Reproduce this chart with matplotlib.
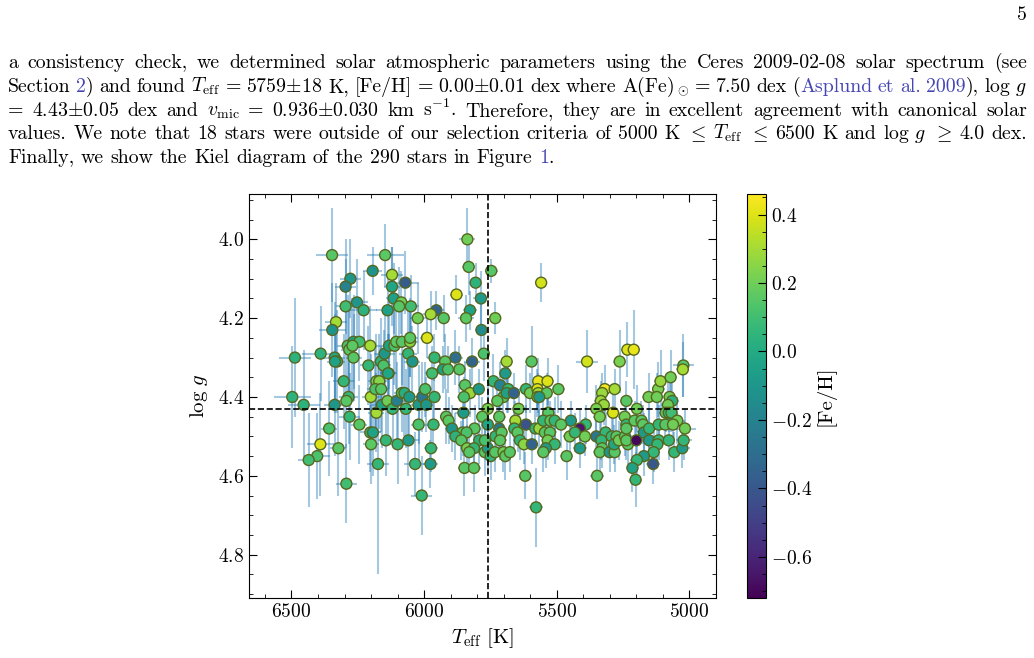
import numpy as np
import matplotlib
matplotlib.use("Agg")
import matplotlib.pyplot as plt
from matplotlib.ticker import MultipleLocator

# ---------------- data ----------------
# (Teff [K], log g, [Fe/H], err Teff, err log g)
hot_stars = [
    (6347, 4.04, 0.15, 60, 0.12), (6147, 4.04, 0.16, 70, 0.08), (6194, 4.08, -0.12, 35, 0.06),
    (6121, 4.09, 0.30, 40, 0.07), (6071, 4.11, -0.38, 50, 0.08), (6278, 4.10, -0.10, 40, 0.10),
    (6296, 4.12, -0.20, 40, 0.12), (6121, 4.12, -0.02, 30, 0.10), (6115, 4.15, -0.05, 30, 0.09),
    (6086, 4.16, 0.20, 40, 0.08), (6253, 4.16, -0.10, 40, 0.11), (6296, 4.17, 0.10, 35, 0.12),
    (6228, 4.18, 0.04, 50, 0.10), (6138, 4.18, -0.05, 45, 0.09), (6094, 4.17, 0.15, 30, 0.10),
    (6332, 4.21, 0.30, 40, 0.10), (6346, 4.23, -0.12, 50, 0.12), (6487, 4.30, 0.04, 60, 0.15),
    (6390, 4.29, 0.04, 70, 0.12), (6337, 4.30, -0.02, 40, 0.14), (6328, 4.31, 0.06, 30, 0.13),
    (6336, 4.31, -0.05, 30, 0.12), (6288, 4.27, 0.12, 40, 0.13), (6266, 4.26, -0.04, 35, 0.12),
    (6244, 4.26, 0.10, 35, 0.10), (6282, 4.28, 0.15, 30, 0.11), (6270, 4.27, 0.16, 30, 0.12),
    (6266, 4.30, 0.15, 30, 0.11), (6203, 4.27, 0.30, 40, 0.10), (6210, 4.32, 0.06, 30, 0.10),
    (6163, 4.31, 0.04, 35, 0.11), (6153, 4.32, 0.12, 30, 0.09), (6149, 4.29, -0.10, 40, 0.10),
    (6132, 4.27, -0.05, 30, 0.11), (6112, 4.27, 0.12, 30, 0.10), (6105, 4.26, 0.16, 30, 0.12),
    (6084, 4.26, 0.15, 30, 0.11), (6134, 4.34, 0.04, 30, 0.10), (6497, 4.40, 0.04, 70, 0.13),
    (6454, 4.42, 0.04, 60, 0.14), (6303, 4.36, 0.06, 40, 0.12), (6337, 4.42, -0.10, 40, 0.13),
    (6285, 4.40, 0.06, 35, 0.12), (6293, 4.41, 0.15, 30, 0.12), (6281, 4.45, 0.06, 40, 0.11),
    (6244, 4.47, 0.15, 30, 0.10), (6358, 4.48, 0.12, 30, 0.12), (6391, 4.52, 0.40, 50, 0.13),
    (6323, 4.53, 0.15, 30, 0.12), (6403, 4.55, 0.12, 50, 0.11), (6435, 4.56, 0.10, 40, 0.12),
    (6293, 4.62, 0.10, 40, 0.10), (6201, 4.40, 0.30, 35, 0.11), (6180, 4.44, 0.30, 30, 0.10),
    (6180, 4.36, 0.20, 30, 0.12), (6169, 4.36, 0.25, 30, 0.12), (6184, 4.38, 0.12, 30, 0.10),
    (6162, 4.38, 0.15, 30, 0.11), (6136, 4.34, -0.02, 30, 0.10), (6159, 4.42, -0.05, 40, 0.11),
    (6138, 4.41, 0.20, 30, 0.10), (6119, 4.43, 0.06, 30, 0.09), (6103, 4.41, -0.22, 40, 0.10),
    (6084, 4.39, 0.12, 30, 0.10), (6074, 4.39, 0.02, 30, 0.11), (6069, 4.43, 0.06, 30, 0.10),
    (6203, 4.49, 0.06, 40, 0.10), (6193, 4.49, -0.05, 30, 0.11), (6200, 4.52, 0.16, 30, 0.10),
    (6144, 4.51, 0.06, 30, 0.09), (6100, 4.52, 0.06, 35, 0.10), (6174, 4.57, 0.06, 40, 0.28),
]

mid_stars = [
    (6050, 4.17, 0.10, 30, 0.08), (6024, 4.20, 0.20, 30, 0.09), (6053, 4.26, 0.25, 30, 0.09),
    (6053, 4.25, 0.16, 30, 0.10), (6060, 4.29, 0.06, 35, 0.11), (6044, 4.31, -0.10, 30, 0.09),
    (6056, 4.40, -0.08, 30, 0.11), (6021, 4.42, -0.08, 30, 0.10), (6007, 4.40, -0.25, 30, 0.09),
    (6021, 4.47, 0.12, 30, 0.09), (6059, 4.51, -0.08, 40, 0.09), (6034, 4.57, 0.06, 40, 0.08),
    (6009, 4.65, 0.06, 40, 0.10), (5996, 4.38, 0.12, 25, 0.07), (5837, 4.00, 0.20, 30, 0.08),
    (5832, 4.07, 0.15, 25, 0.07), (5747, 4.08, 0.15, 25, 0.03), (5806, 4.11, 0.04, 25, 0.05),
    (5878, 4.14, 0.40, 25, 0.05), (5786, 4.15, -0.08, 30, 0.07), (5827, 4.18, -0.05, 25, 0.05),
    (5954, 4.18, -0.35, 30, 0.05), (5975, 4.19, 0.30, 30, 0.06), (5926, 4.20, 0.15, 25, 0.06),
    (5842, 4.20, 0.16, 30, 0.06), (5732, 4.20, 0.20, 20, 0.04), (5784, 4.23, -0.15, 25, 0.07),
    (5989, 4.25, 0.40, 25, 0.05), (5775, 4.29, 0.12, 20, 0.07), (5961, 4.30, 0.06, 30, 0.06),
    (5882, 4.30, -0.30, 30, 0.07), (5819, 4.31, -0.35, 30, 0.06), (5921, 4.31, 0.15, 25, 0.07),
    (5929, 4.33, -0.05, 25, 0.06), (5910, 4.33, 0.12, 25, 0.06), (5867, 4.33, 0.15, 25, 0.06),
    (5970, 4.34, 0.10, 25, 0.07), (5961, 4.40, 0.06, 25, 0.06), (5992, 4.42, -0.10, 25, 0.07),
    (5846, 4.37, 0.15, 25, 0.06), (5827, 4.39, 0.28, 25, 0.06), (5794, 4.38, -0.08, 25, 0.05),
    (5850, 4.40, 0.12, 25, 0.05), (5852, 4.44, -0.08, 30, 0.06), (5760, 4.43, 0.22, 25, 0.06),
    (5739, 4.36, 0.06, 25, 0.07), (5714, 4.37, -0.20, 25, 0.06), (5701, 4.40, 0.16, 25, 0.06),
    (5724, 4.41, 0.16, 25, 0.06), (5917, 4.45, 0.15, 25, 0.07), (5908, 4.46, 0.16, 25, 0.06),
    (5895, 4.48, -0.10, 25, 0.06), (5965, 4.47, 0.06, 25, 0.06), (5781, 4.45, 0.16, 25, 0.05),
    (5760, 4.47, -0.02, 25, 0.05), (5717, 4.45, 0.16, 25, 0.06), (5717, 4.48, -0.25, 25, 0.06),
    (5810, 4.48, 0.15, 25, 0.06), (5855, 4.49, 0.15, 25, 0.06), (5840, 4.49, 0.12, 25, 0.06),
    (5882, 4.50, 0.04, 25, 0.06), (5860, 4.51, 0.15, 25, 0.05), (5792, 4.51, 0.04, 25, 0.06),
    (5838, 4.53, 0.22, 25, 0.06), (5812, 4.53, 0.06, 25, 0.05), (5830, 4.54, 0.15, 25, 0.05),
    (5771, 4.54, 0.15, 25, 0.06), (5760, 4.53, -0.08, 25, 0.05), (5749, 4.55, 0.06, 25, 0.06),
    (5733, 4.54, 0.15, 25, 0.05), (5701, 4.54, 0.20, 25, 0.05), (5731, 4.50, 0.06, 25, 0.05),
    (5708, 4.49, 0.15, 25, 0.05), (5714, 4.51, 0.16, 25, 0.05), (5974, 4.53, 0.06, 25, 0.06),
    (5976, 4.57, -0.08, 30, 0.06), (5848, 4.58, 0.15, 25, 0.07), (5812, 4.58, 0.15, 25, 0.06),
    (5771, 4.51, 0.12, 25, 0.05),
]

cool_stars = [
    (5559, 4.11, 0.38, 20, 0.05), (5689, 4.31, 0.30, 25, 0.06), (5694, 4.34, -0.08, 25, 0.06),
    (5595, 4.31, 0.15, 25, 0.09), (5683, 4.38, 0.06, 25, 0.06), (5689, 4.39, -0.05, 25, 0.05),
    (5662, 4.39, -0.35, 25, 0.05), (5694, 4.55, 0.16, 25, 0.06), (5677, 4.54, 0.15, 25, 0.05),
    (5386, 4.31, 0.38, 40, 0.08), (5263, 4.31, 0.22, 25, 0.08), (5234, 4.28, 0.40, 25, 0.07),
    (5210, 4.28, 0.42, 25, 0.10), (5023, 4.32, 0.15, 40, 0.08), (5656, 4.46, 0.30, 25, 0.05),
    (5660, 4.48, 0.06, 25, 0.05), (5648, 4.49, 0.15, 25, 0.05), (5639, 4.51, 0.06, 25, 0.05),
    (5644, 4.43, 0.20, 25, 0.05), (5616, 4.38, 0.06, 25, 0.06), (5601, 4.39, 0.20, 25, 0.05),
    (5570, 4.36, 0.42, 25, 0.06), (5535, 4.36, 0.40, 25, 0.06), (5573, 4.38, 0.40, 25, 0.05),
    (5570, 4.39, 0.30, 25, 0.05), (5573, 4.40, 0.28, 25, 0.05), (5538, 4.39, 0.16, 25, 0.05),
    (5566, 4.40, -0.08, 25, 0.05), (5494, 4.38, 0.16, 25, 0.06), (5532, 4.44, 0.15, 25, 0.05),
    (5616, 4.47, -0.42, 25, 0.05), (5624, 4.52, 0.25, 25, 0.05), (5594, 4.52, -0.35, 25, 0.05),
    (5581, 4.48, 0.06, 25, 0.05), (5566, 4.48, 0.28, 25, 0.05), (5551, 4.46, 0.06, 25, 0.05),
    (5524, 4.46, 0.15, 25, 0.05), (5508, 4.46, 0.06, 25, 0.06), (5545, 4.49, 0.16, 25, 0.05),
    (5526, 4.49, 0.15, 25, 0.05), (5534, 4.51, 0.20, 25, 0.05), (5508, 4.52, 0.06, 25, 0.05),
    (5541, 4.53, -0.08, 25, 0.05), (5551, 4.54, 0.15, 25, 0.05), (5619, 4.60, 0.15, 25, 0.06),
    (5578, 4.68, 0.06, 25, 0.10), (5319, 4.38, 0.45, 25, 0.06), (5282, 4.38, 0.30, 25, 0.05),
    (5329, 4.39, 0.28, 25, 0.05), (5334, 4.41, 0.28, 25, 0.05), (5323, 4.42, 0.28, 25, 0.05),
    (5288, 4.44, 0.40, 25, 0.05), (5351, 4.43, 0.22, 25, 0.06), (5338, 4.45, 0.20, 25, 0.05),
    (5238, 4.41, 0.15, 25, 0.05), (5198, 4.43, 0.20, 25, 0.06), (5244, 4.45, 0.20, 25, 0.05),
    (5154, 4.40, 0.20, 25, 0.06), (5118, 4.38, 0.22, 25, 0.07), (5123, 4.40, 0.20, 25, 0.06),
    (5109, 4.36, 0.28, 25, 0.08), (5071, 4.35, 0.20, 25, 0.07), (5025, 4.33, 0.30, 25, 0.07),
    (5075, 4.40, 0.20, 25, 0.06), (5065, 4.41, 0.04, 25, 0.06), (5081, 4.42, 0.20, 25, 0.06),
    (5090, 4.44, 0.15, 25, 0.05), (5078, 4.44, 0.06, 25, 0.05), (5068, 4.44, 0.10, 25, 0.05),
    (5046, 4.46, 0.20, 30, 0.06), (5017, 4.48, 0.20, 40, 0.05), (5447, 4.46, -0.08, 25, 0.05),
    (5484, 4.47, 0.16, 25, 0.06), (5391, 4.47, 0.06, 25, 0.05), (5413, 4.48, -0.65, 25, 0.05),
    (5451, 4.50, 0.20, 25, 0.05), (5394, 4.50, 0.20, 25, 0.05), (5432, 4.49, 0.06, 25, 0.05),
    (5413, 4.53, -0.08, 25, 0.05), (5463, 4.55, 0.15, 25, 0.06), (5351, 4.50, -0.25, 25, 0.05),
    (5316, 4.49, 0.06, 25, 0.05), (5332, 4.51, 0.06, 25, 0.05), (5329, 4.53, 0.15, 25, 0.05),
    (5338, 4.54, 0.16, 25, 0.05), (5301, 4.54, -0.10, 25, 0.05), (5282, 4.54, 0.15, 25, 0.05),
    (5293, 4.50, 0.06, 25, 0.05), (5275, 4.50, 0.15, 25, 0.05), (5284, 4.52, -0.02, 25, 0.05),
    (5266, 4.51, 0.20, 25, 0.05), (5243, 4.50, 0.15, 25, 0.05), (5232, 4.52, 0.15, 25, 0.05),
    (5238, 4.51, 0.16, 25, 0.05), (5200, 4.51, -0.70, 25, 0.05), (5238, 4.47, 0.06, 25, 0.05),
    (5238, 4.48, 0.15, 25, 0.05), (5207, 4.46, 0.16, 25, 0.05), (5181, 4.46, 0.15, 25, 0.05),
    (5175, 4.47, 0.16, 25, 0.05), (5172, 4.49, -0.08, 25, 0.05), (5152, 4.48, 0.06, 25, 0.05),
    (5152, 4.51, -0.08, 25, 0.05), (5116, 4.47, 0.06, 25, 0.05), (5091, 4.47, 0.15, 25, 0.05),
    (5062, 4.47, 0.20, 25, 0.05), (5116, 4.51, 0.06, 25, 0.05), (5078, 4.51, 0.06, 25, 0.05),
    (5121, 4.52, 0.06, 25, 0.05), (5135, 4.54, 0.06, 25, 0.05), (5172, 4.55, -0.08, 25, 0.05),
    (5198, 4.56, 0.06, 25, 0.06), (5215, 4.58, -0.05, 25, 0.06), (5137, 4.57, -0.40, 25, 0.05),
    (5203, 4.61, 0.06, 25, 0.07), (5348, 4.60, 0.15, 25, 0.06), (5057, 4.54, 0.06, 25, 0.05),
    (5027, 4.53, -0.08, 30, 0.05), (5022, 4.51, 0.06, 30, 0.05),
]

sun_teff = 5759
sun_logg = 4.43

x_ticks = [6500, 6000, 5500, 5000]
y_ticks = [4.0, 4.2, 4.4, 4.6, 4.8]
cbar_ticks = [0.4, 0.2, 0.0, -0.2, -0.4, -0.6]

# ---------------- style ----------------
plt.rcParams.update({
    "font.family": ["cmr10"],
    "mathtext.fontset": "cm",
    "axes.formatter.use_mathtext": True,
    "axes.unicode_minus": True,
})

LINK = "#4646b4"
TEXT_SIZE = 14.3

fig = plt.figure(figsize=(10.34, 6.58), dpi=100)
W, H = 1034.0, 658.0


def justify_line(words, y_px, size=TEXT_SIZE, x0=8.0, x1=1027.0, justify=True):
    """ Lays out one line of page text, spreading words between x0 and x1.
    """
    renderer = fig.canvas.get_renderer()
    groups = []
    for w in words:
        pieces = [(w, "black")] if isinstance(w, str) else w
        objs = []
        for txt, col in pieces:
            t = fig.text(0, 1 - y_px / H, txt, color=col, fontsize=size,
                         va="baseline", ha="left")
            objs.append(t)
        groups.append(objs)
    widths = []
    for objs in groups:
        widths.append([o.get_window_extent(renderer).width for o in objs])
    total = sum(sum(w) for w in widths)
    if justify:
        gap = (x1 - x0 - total) / (len(groups) - 1)
    else:
        gap = size * 100 / 72 * 0.333
    x = x0
    for objs, ws in zip(groups, widths):
        for o, w in zip(objs, ws):
            o.set_x(x / W)
            x += w
        x += gap


line1 = "a consistency check, we determined solar atmospheric parameters using the Ceres 2009-02-08 solar spectrum (see".split()
line2 = ["Section", [("2", LINK), (")", "black")], "and", "found", r"$T_{\rm eff}$", "=",
         r"5759$\pm$18", "K,", "[Fe/H]", "=", r"0.00$\pm$0.01", "dex", "where",
         r"A(Fe)$_\odot$", "=", "7.50", "dex", [("(", "black"), ("Asplund", LINK)],
         [("et", LINK)], [("al.", LINK)], [("2009", LINK), ("),", "black")], r"$\log\,g$"]
line3 = ["=", r"4.43$\pm$0.05", "dex", "and", r"$v_{\rm mic}$", "=", r"0.936$\pm$0.030",
         "km", r"s$^{-1}$.", "Therefore,", "they", "are", "in", "excellent", "agreement",
         "with", "canonical", "solar"]
line4 = ["values.", "We", "note", "that", "18", "stars", "were", "outside", "of", "our",
         "selection", "criteria", "of", "5000", "K", r"$\leq$", r"$T_{\rm eff}$", r"$\leq$",
         "6500", "K", "and", r"$\log\,g$", r"$\geq$", "4.0", "dex."]
line5 = ["Finally,", "we", "show", "the", "Kiel", "diagram", "of", "the", "290", "stars",
         "in", "Figure", [("1", LINK), (".", "black")]]

justify_line(line1, 68)
justify_line(line2, 92)
justify_line(line3, 116)
justify_line(line4, 139)
justify_line(line5, 163, justify=False)
fig.text(1027 / W, 1 - 20 / H, "5", fontsize=TEXT_SIZE, ha="right", va="baseline")

# ---------------- Kiel diagram ----------------
stars = np.array(hot_stars + mid_stars + cool_stars)
teff, logg, feh, e_teff, e_logg = stars.T

ax = fig.add_axes([249 / W, 1 - 598 / H, (716 - 249) / W, (598 - 194) / H])
cax = fig.add_axes([747 / W, 1 - 598 / H, (766 - 747) / W, (598 - 194) / H])

ax.errorbar(teff, logg, xerr=e_teff, yerr=e_logg, fmt="none", ecolor="#1f77b4",
            alpha=0.4, elinewidth=1.5, capsize=0, zorder=1)
sc = ax.scatter(teff, logg, c=feh, cmap="viridis", vmin=-0.72, vmax=0.46, s=62,
                edgecolors="#56671f", linewidths=1.0, zorder=3)
ax.axvline(sun_teff, color="black", ls="--", lw=1.2, zorder=4)
ax.axhline(sun_logg, color="black", ls="--", lw=1.2, zorder=4)

ax.set_xlim(6660, 4900)
ax.set_ylim(4.91, 3.885)
ax.set_xticks(x_ticks)
ax.set_yticks(y_ticks)
ax.xaxis.set_minor_locator(MultipleLocator(100))
ax.yaxis.set_minor_locator(MultipleLocator(0.05))
ax.tick_params(which="both", direction="in", top=True, right=True, labelsize=14)
ax.tick_params(which="major", length=6)
ax.tick_params(which="minor", length=3)
ax.set_xlabel(r"$T_{\rm eff}$ [K]", fontsize=15, labelpad=4)
ax.set_ylabel(r"$\log\,g$", fontsize=15, labelpad=6)

cb = fig.colorbar(sc, cax=cax)
cb.set_ticks(cbar_ticks)
cb.ax.yaxis.set_minor_locator(MultipleLocator(0.05))
cb.ax.tick_params(which="both", direction="in", labelsize=14)
cb.ax.tick_params(which="major", length=6)
cb.ax.tick_params(which="minor", length=3)
cb.set_label("[Fe/H]", fontsize=15, labelpad=2)

fig.savefig("out.png", dpi=100)
